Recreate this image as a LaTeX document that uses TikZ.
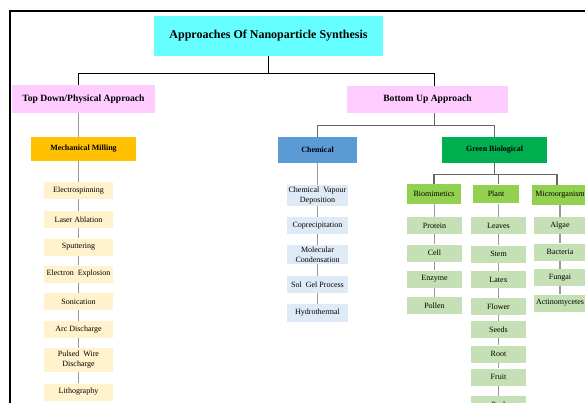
\documentclass[tikz,border=0pt]{standalone}
\usepackage{fontspec}
\setmainfont{Liberation Serif}
\definecolor{titlecyan}{HTML}{66FFFF}
\definecolor{approachpink}{HTML}{FFCCFF}
\definecolor{millorange}{HTML}{FFC000}
\definecolor{itemyellow}{HTML}{FFF2CC}
\definecolor{chemblue}{HTML}{5B9BD5}
\definecolor{itemblue}{HTML}{DEEBF7}
\definecolor{biogreen}{HTML}{00B050}
\definecolor{subgreen}{HTML}{92D050}
\definecolor{itemgreen}{HTML}{C5E0B4}
\begin{document}
\begin{tikzpicture}[x=0.75pt,y=0.75pt,yscale=-1,xscale=1,
  box/.style={inner sep=0pt,align=center,font=\fontsize{6}{7.5}\selectfont,minimum height=12.75pt},
  headbox/.style={box,font=\bfseries\fontsize{6}{7.5}\selectfont},
  leftitem/.style={box,fill=itemyellow,minimum width=51.75pt},
  chemitem/.style={box,fill=itemblue,minimum width=45.75pt},
  bioitem/.style={box,fill=itemgreen,minimum width=41.25pt},
  microitem/.style={box,fill=itemgreen,minimum width=39pt},
  mainlink/.style={black,line width=0.8pt},
  branch/.style={black!60,line width=0.8pt},
  chain/.style={black!40,line width=0.9pt}]
\useasboundingbox (0,0) rectangle (585,403);

%frame
\draw [line width=1.5pt] (9.75,420) -- (9.75,10.75) -- (600,10.75);

% Level 0 and 1
\node [box,fill=titlecyan,minimum width=171.75pt,minimum height=30pt,font=\bfseries\fontsize{9}{11}\selectfont] (title) at (268.5,36) {Approaches Of Nanoparticle Synthesis};
\node [box,fill=approachpink,minimum width=107.25pt,minimum height=21pt,font=\bfseries\fontsize{7.2}{9}\selectfont] (topdown) at (83.5,99) {Top Down/Physical Approach};
\node [box,fill=approachpink,minimum width=120.75pt,minimum height=20.25pt,font=\bfseries\fontsize{7.2}{9}\selectfont] (bottomup) at (427.5,99.5) {Bottom Up Approach};

% Level 2
\node [headbox,fill=millorange,minimum width=78.75pt,minimum height=18pt] (mill) at (83.5,149) {Mechanical Milling};
\node [headbox,fill=chemblue,minimum width=59.25pt,minimum height=19.5pt] (chem) at (317.5,150) {Chemical};
\node [headbox,fill=biogreen,minimum width=78.75pt,minimum height=19.5pt] (green) at (494.5,150) {Green Biological};

% Level 3
\node [box,fill=subgreen,minimum width=40.5pt,minimum height=15pt] (biom) at (434,194) {Biomimetics};
\node [box,fill=subgreen,minimum width=34.5pt,minimum height=14pt] (plant) at (496,194) {Plant};
\node [box,fill=subgreen,minimum width=42pt,minimum height=15pt] (micro) at (560,195) {Microorganism};

% Physical methods
\node [leftitem] (elec) at (78.5,190.5) {Electrospinning};
\node [leftitem] (laser) at (78.5,219.5) {Laser Ablation};
\node [leftitem] (sputter) at (78.5,247) {Sputtering};
\node [leftitem] (explo) at (78.5,274) {Electron\ \ Explosion};
\node [leftitem] (sonic) at (78.5,301.5) {Sonication};
\node [leftitem] (arc) at (78.5,329.5) {Arc Discharge};
\node [leftitem,minimum height=18pt] (pulsed) at (78.5,360) {Pulsed\ \ Wire\\Discharge};
\node [leftitem] (litho) at (78.5,392) {Lithography};

% Chemical methods
\node [chemitem,minimum height=15.75pt] (cvd) at (317.5,195.5) {Chemical\ \ Vapour\\Deposition};
\node [chemitem] (copre) at (317.5,225.5) {Coprecipitation};
\node [chemitem,minimum height=14.25pt] (molec) at (317.5,254.5) {Molecular\\Condensation};
\node [chemitem] (solgel) at (317.5,284.5) {Sol\ \ Gel Process};
\node [chemitem,minimum height=13.5pt] (hydro) at (317.5,313) {Hydrothermal};

% Biomimetics
\node [bioitem] (protein) at (434.5,225.5) {Protein};
\node [bioitem] (cell) at (434.5,253) {Cell};
\node [bioitem] (enzyme) at (434.5,279) {Enzyme};
\node [bioitem] (pollen) at (434.5,305.5) {Pollen};

% Plant
\node [bioitem] (leaves) at (498.5,225.5) {Leaves};
\node [bioitem] (stem) at (498.5,254) {Stem};
\node [bioitem] (latex) at (498.5,279.5) {Latex};
\node [bioitem] (flower) at (498.5,306.5) {Flower};
\node [bioitem] (seeds) at (498.5,329.5) {Seeds};
\node [bioitem] (root) at (498.5,354) {Root};
\node [bioitem] (fruit) at (498.5,377) {Fruit};
\node [bioitem] (peel) at (498.5,404.5) {Peel};

% Microorganism
\node [microitem] (algae) at (560,225.5) {Algae};
\node [microitem] (bact) at (560,252) {Bacteria};
\node [microitem] (fungai) at (560,277.5) {Fungai};
\node [microitem] (actino) at (560,303) {Actinomycetes};

% Connectors
\draw [mainlink] (title.south) -- ++(0,17) -| (topdown.north -| elec.north);
\draw [mainlink] (title.south) -- ++(0,17) -| ([xshift=5.25pt]bottomup.north);
\draw [branch] ([xshift=5.25pt]bottomup.south) -- ++(0,12) -| (chem.north);
\draw [branch] ([xshift=5.25pt]bottomup.south) -- ++(0,12) -| (green.north);
\draw [branch] (green.south) -- ++(0,11) -| (biom.north);
\draw [branch] (green.south) -- ++(0,11) -| (plant.north -| leaves.north);
\draw [branch] (green.south) -- ++(0,11) -| ([xshift=-2.25pt]micro.north);
\draw [chain] (topdown.south -| elec.north) -- (mill.north -| elec.north);
\foreach \a/\b in {mill/elec,elec/laser,laser/sputter,sputter/explo,explo/sonic,sonic/arc,arc/pulsed,pulsed/litho,
  chem/cvd,cvd/copre,copre/molec,molec/solgel,solgel/hydro,
  biom/protein,protein/cell,cell/enzyme,enzyme/pollen,
  plant/leaves,leaves/stem,stem/latex,latex/flower,flower/seeds,seeds/root,root/fruit,fruit/peel,
  micro/algae,algae/bact,bact/fungai,fungai/actino}
  \draw [chain] (\a.south -| \b.north) -- (\b.north);

\end{tikzpicture}
\end{document}
